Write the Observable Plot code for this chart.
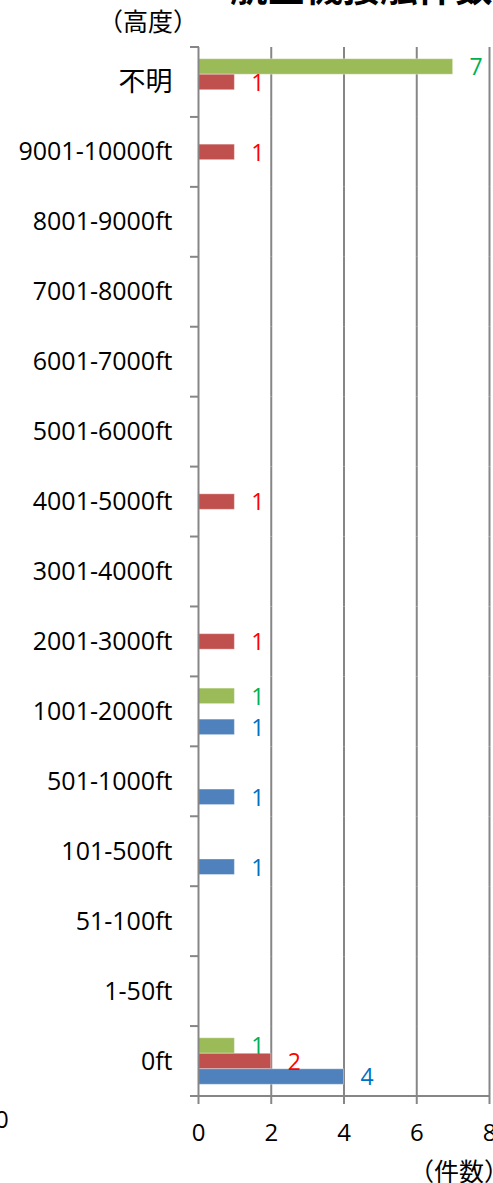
<!DOCTYPE html>
<html>
<head>
<meta charset="utf-8">
<script src="https://cdn.jsdelivr.net/npm/d3@7"></script>
<script src="https://cdn.jsdelivr.net/npm/@observablehq/plot@0.6"></script>
<style>
  html, body { margin: 0; padding: 0; background: #fff; }
  #wrap { position: relative; width: 493px; height: 1183px; overflow: hidden; background: #fff; }
  #wrap svg { position: absolute; left: 0; top: 0; }
  .note { position: absolute; white-space: nowrap; line-height: 1; color: #000; }
  #title { left: 230px; top: -43px; font: bold 37.5px "Noto Sans CJK JP", sans-serif; }
  #ylab { left: 98px; top: 2px; font: 25px "Noto Sans CJK JP", sans-serif; }
  #xlab { left: 409px; top: 1152px; font: 25px "Noto Sans CJK JP", sans-serif; }
  #stray { left: -5px; top: 1102px; font: 24px "Open Sans", sans-serif; }
</style>
</head>
<body>
<div id="wrap">
  <div class="note" id="title">航空機接触件数</div>
  <div class="note" id="ylab">（高度）</div>
  <div class="note" id="xlab">（件数）</div>
  <div class="note" id="stray">0</div>
</div>
<script>
// Categories, top to bottom
const categories = ["不明", "9001-10000ft", "8001-9000ft", "7001-8000ft", "6001-7000ft",
  "5001-6000ft", "4001-5000ft", "3001-4000ft", "2001-3000ft", "1001-2000ft",
  "501-1000ft", "101-500ft", "51-100ft", "1-50ft", "0ft"];
// Series (top bar to bottom bar inside each group)
const seriesNames = ["系列1", "系列2", "系列3"];
const series1Values = [7, 0, 0, 0, 0, 0, 0, 0, 0, 1, 0, 0, 0, 0, 1];
const series2Values = [1, 1, 0, 0, 0, 0, 1, 0, 1, 0, 0, 0, 0, 0, 2];
const series3Values = [0, 0, 0, 0, 0, 0, 0, 0, 0, 1, 1, 1, 0, 0, 4];
const barColors = ["#9BBB59", "#C0504D", "#4F81BD"];
const labelColors = ["#00B050", "#FF0000", "#0070C0"];
const xTicks = [0, 2, 4, 6, 8];
const gridTicks = [2, 4, 6, 8];

const allValues = [series1Values, series2Values, series3Values];
const data = [];
seriesNames.forEach((s, si) => {
  categories.forEach((c, ci) => {
    const v = allValues[si][ci];
    if (v > 0) data.push({cat: c, series: s, value: v, si});
  });
});
const gridData = categories.flatMap(c => gridTicks.map(t => ({cat: c, t})));
const baseData = categories.map(c => ({cat: c, t: 0}));

const axisColor = "#868686";
const latin = "'Open Sans', 'Noto Sans CJK JP', sans-serif";

const plot = Plot.plot({
  width: 493,
  height: 1183,
  marginLeft: 198,
  marginRight: 4,
  marginTop: 47,
  marginBottom: 87,
  style: {fontFamily: latin, background: "transparent", color: "#000", overflow: "visible"},
  x: {domain: [0, 8]},
  y: {domain: seriesNames, paddingInner: 0, paddingOuter: 0.755, round: false, axis: null},
  fy: {domain: categories, padding: 0, round: false, axis: null},
  marks: [
    Plot.ruleX(gridData, {x: "t", fy: "cat", stroke: axisColor, strokeWidth: 2}),
    Plot.barX(data, {
      x: "value", y: "series", fy: "cat",
      fill: d => barColors[d.si],
      stroke: "#ffffff", strokeOpacity: 0.35, strokeWidth: 1
    }),
    Plot.ruleX(baseData, {x: "t", fy: "cat", stroke: axisColor, strokeWidth: 2}),
    Plot.text(data, {
      x: "value", y: "series", fy: "cat",
      text: d => String(d.value),
      fill: d => labelColors[d.si],
      dx: 23, dy: 1, fontSize: 23
    }),
    Plot.axisFy({
      anchor: "left", tickSize: 0, tickPadding: 26, label: null,
      fontSize: 25, fill: "#000"
    }),
    Plot.axisX({
      ticks: xTicks, tickSize: 8, tickPadding: 19, label: null, facetAnchor: "bottom",
      stroke: axisColor, strokeWidth: 2, fontSize: 24, fill: "#000",
      tickFormat: d => String(d)
    })
  ]
});

// Category boundary ticks and the bottom axis line, placed from the plot's own scales
const fyS = plot.scale("fy");
const xS = plot.scale("x");
const x0 = xS.apply(0);
const xEnd = xS.apply(8);
const edges = categories.map(c => fyS.apply(c));
edges.push(fyS.apply(categories[categories.length - 1]) + fyS.bandwidth);
const svg = d3.select(plot);
const g = svg.append("g").attr("stroke", axisColor).attr("stroke-width", 2);
g.selectAll("line.edge").data(edges).join("line")
  .attr("class", "edge")
  .attr("x1", x0 - 8).attr("x2", x0 + 1)
  .attr("y1", d => d).attr("y2", d => d);
g.append("line")
  .attr("x1", x0 - 8).attr("x2", xEnd + 1)
  .attr("y1", edges[edges.length - 1]).attr("y2", edges[edges.length - 1]);

// Larger CJK label for 不明
svg.selectAll("text").filter(function() { return this.textContent === "不明"; })
  .attr("font-size", 27);

document.getElementById("wrap").prepend(plot);
</script>
</body>
</html>
